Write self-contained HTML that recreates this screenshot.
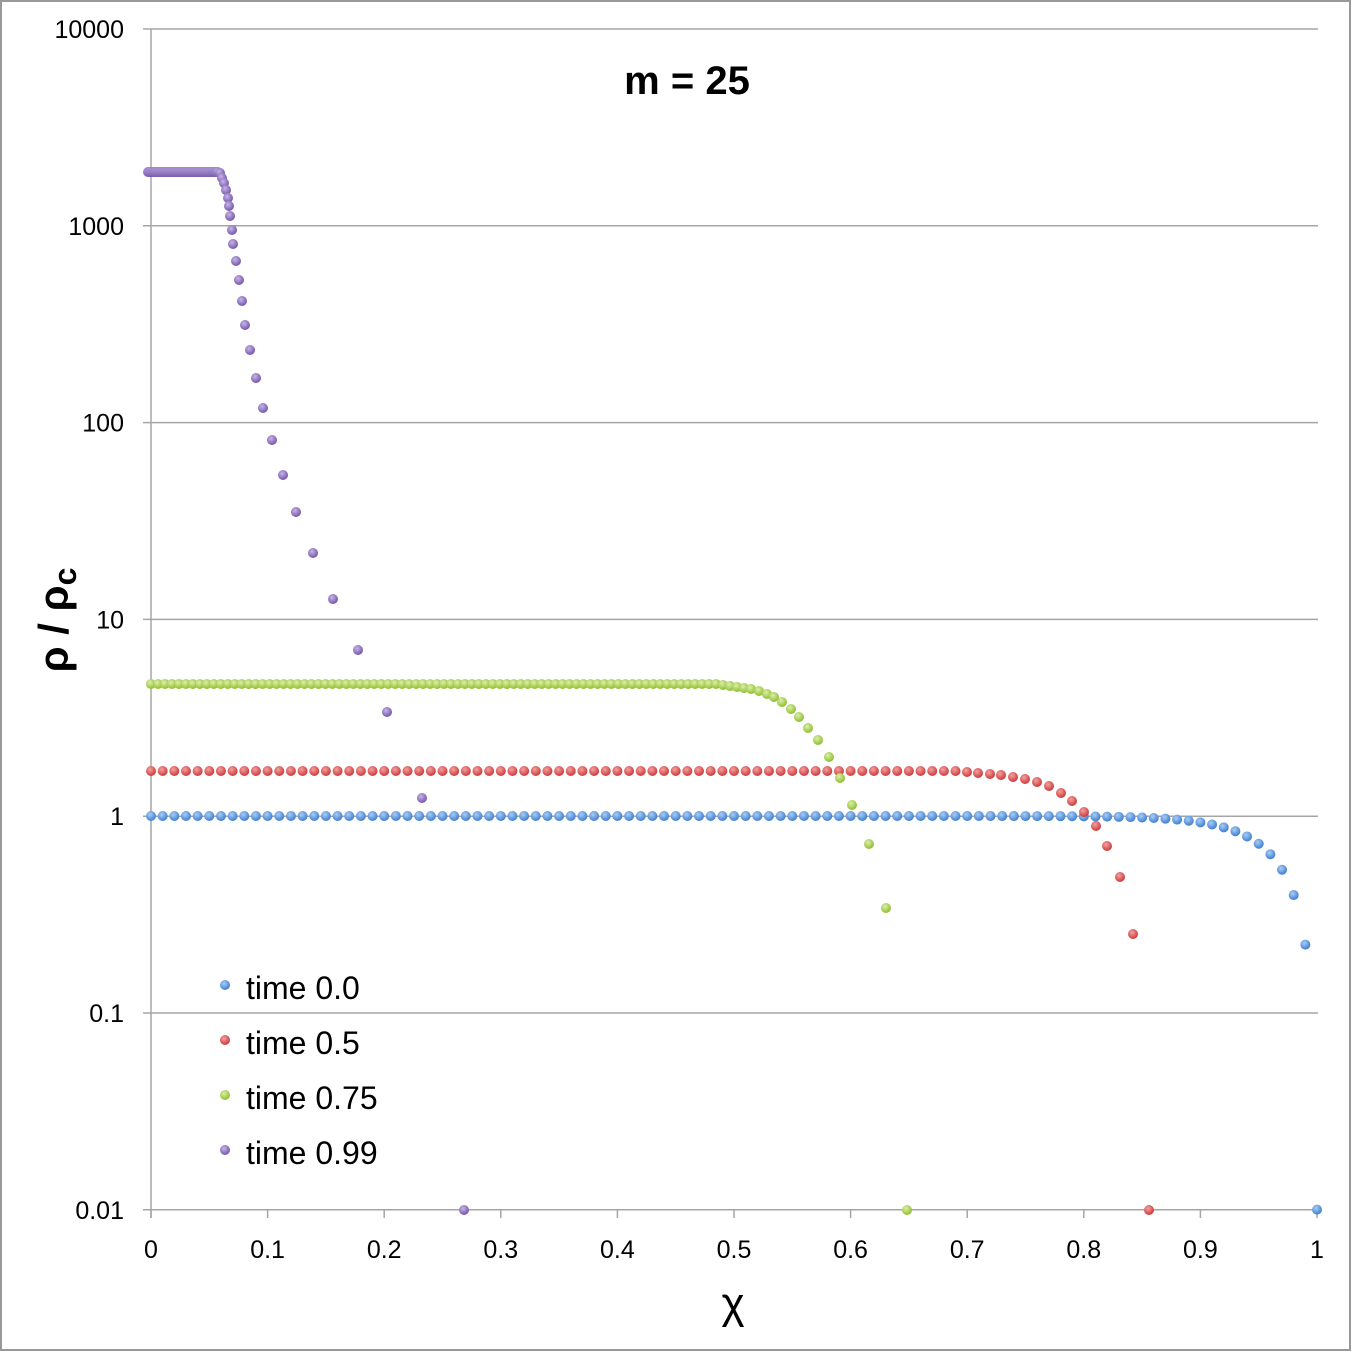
<!DOCTYPE html>
<html><head><meta charset="utf-8"><style>
body{margin:0;background:#fff}
svg{display:block}
text{font-family:"Liberation Sans",sans-serif;fill:#000}
</style></head><body>
<svg id="s" width="1352" height="1352" xmlns="http://www.w3.org/2000/svg">
<defs>
<radialGradient id="gb" cx="40%" cy="35%" r="65%"><stop offset="0" stop-color="#a9cdf5"/><stop offset="1" stop-color="#3f7fd0"/></radialGradient>
<radialGradient id="gr" cx="40%" cy="35%" r="65%"><stop offset="0" stop-color="#f5a0a0"/><stop offset="1" stop-color="#cc3a3a"/></radialGradient>
<radialGradient id="gg" cx="40%" cy="35%" r="65%"><stop offset="0" stop-color="#dcf0a8"/><stop offset="1" stop-color="#8fbe30"/></radialGradient>
<radialGradient id="gp" cx="40%" cy="35%" r="65%"><stop offset="0" stop-color="#c7b4e6"/><stop offset="1" stop-color="#7456ab"/></radialGradient>
</defs>
<rect x="1" y="1" width="1349" height="1349" fill="#fff" stroke="#999" stroke-width="2"/>
<g id="grid" stroke="#a5a5a5" stroke-width="1.5"></g>
<g id="lab" font-size="25"></g>
<text x="687" y="94" font-size="40" font-weight="bold" text-anchor="middle">m = 25</text>
<text transform="translate(68,620) rotate(-90)" font-size="42" font-weight="bold" text-anchor="middle">ρ / ρ<tspan font-size="32" dy="8">c</tspan></text>
<text x="733" y="1318" font-size="44" text-anchor="middle">χ</text>
<g id="pts"></g>
<g font-size="32">
<circle cx="225" cy="985" r="5" fill="url(#gb)"/><text x="246" y="999">time 0.0</text>
<circle cx="225" cy="1040" r="5" fill="url(#gr)"/><text x="246" y="1054">time 0.5</text>
<circle cx="225" cy="1095" r="5" fill="url(#gg)"/><text x="246" y="1109">time 0.75</text>
<circle cx="225" cy="1150" r="5" fill="url(#gp)"/><text x="246" y="1164">time 0.99</text>
</g>
</svg>
<script>
const NS="http://www.w3.org/2000/svg";
function el(p,t,a,txt){const e=document.createElementNS(NS,t);for(const k in a)e.setAttribute(k,a[k]);if(txt!==undefined)e.textContent=txt;p.appendChild(e);return e;}
const X=x=>151+1166*x, Y=v=>816-196.8*Math.log10(Math.max(v,0.01));
const g=document.getElementById('grid'),lab=document.getElementById('lab'),pts=document.getElementById('pts');
const ylabs=["10000","1000","100","10","1","0.1","0.01"];
ylabs.forEach((l,i)=>{const y=29+i*196.8;el(g,'line',{x1:143,x2:1318,y1:y,y2:y});el(lab,'text',{x:124,y:y+9,'text-anchor':'end'},l);});
el(g,'line',{x1:151,x2:151,y1:29,y2:1218});
for(let i=0;i<=10;i++){const x=X(i/10);el(g,'line',{x1:x,x2:x,y1:1210,y2:1218});el(lab,'text',{x:x,y:1258,'text-anchor':'middle'},i==0?"0":i==10?"1":(i/10).toFixed(1));}
function dot(x,y,f){el(pts,'circle',{cx:x,cy:y,r:5,fill:'url(#'+f+')'});}
// blue
for(let i=0;i<=100;i++){const x=i/100;dot(X(x),Y(1-Math.pow(x,25)),'gb');}
// red
{for(let i=0;i<70;i++)dot(X(i/100),771,'gr');
 [[967,772],[978,773],[990,774],[1001,775],[1013,777],[1025,779],[1037,782],[1049,786],[1061,793],[1072,801],[1084,812],[1096,826],[1107,846],[1120,877],[1133,934],[1149,1210]].forEach(p=>dot(p[0],p[1],'gr'));}
// green
{for(let i=0;i<82;i++)dot(151+i*(723-151)/82,684,'gg');
 [[723,685],[730,686],[737,687],[744,688],[751,689],[759,691],[767,694],[774,697],[782,702],[791,709],[799,717],[808,728],[818,740],[829,757],[840,778],[852,805],[869,844],[886,908],[907,1210]].forEach(p=>dot(p[0],p[1],'gg'));}
// purple
{for(let x=148;x<=218;x+=1.2)dot(x,172,'gp');
 const t=[[220,173],[222,178],[224,183],[226,190],[228,198],[229,206],[230,216],[232,230],[233,244],[236,261],[239,280],[242,301],[245,325],[250,350],[256,378],[263,408],[272,440],[283,475],[296,512],[313,553],[333,599],[358,650],[387,712],[422,798],[464,1210]];
 t.forEach(p=>dot(p[0],p[1],'gp'));}
</script>
</body></html>
